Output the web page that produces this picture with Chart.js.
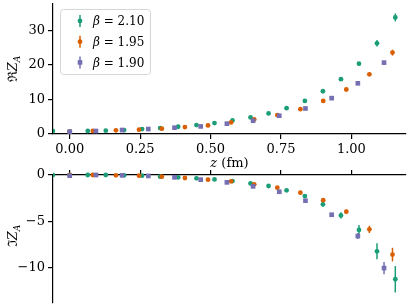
<!DOCTYPE html>
<html>
<head>
<meta charset="utf-8">
<script src="https://cdn.jsdelivr.net/npm/chart.js@4"></script>
<style>
  html, body { margin: 0; padding: 0; background: #fff; }
  #wrap { position: relative; width: 411px; height: 308px; }
  #reChart { position: absolute; left: 0; top: 0; }
  #imChart { position: absolute; left: 0; top: 160px; }
</style>
</head>
<body>
<div id="wrap">
  <canvas id="reChart" width="411" height="170" style="width:411px;height:170px"></canvas>
  <canvas id="imChart" width="411" height="148" style="width:411px;height:148px"></canvas>
</div>
<script>
// beta values (legend)
const betaLabels = ['2.10', '1.95', '1.90'];

// beta = 2.10
const zB210 = [-0.060, 0.000, 0.064, 0.128, 0.193, 0.257, 0.321, 0.385, 0.450, 0.514,
               0.578, 0.642, 0.706, 0.770, 0.835, 0.899, 0.963, 1.027, 1.091, 1.156];
const reB210 = [0.87, 0.70, 0.87, 0.96, 1.15, 1.44, 1.73, 2.10, 2.60, 3.17,
                3.94, 4.80, 5.96, 7.50, 9.60, 12.4, 15.9, 20.4, 26.3, 33.8];
const reErrB210 = [0.05, 0.05, 0.05, 0.05, 0.05, 0.05, 0.05, 0.06, 0.07, 0.08,
                   0.10, 0.12, 0.15, 0.20, 0.25, 0.30, 0.35, 0.50, 0.95, 1.15];
const imB210 = [0.00, 0.00, 0.00, 0.00, -0.04, -0.07, -0.18, -0.25, -0.36, -0.47,
                -0.65, -0.90, -1.18, -1.65, -2.26, -3.15, -4.34, -5.90, -8.20, -11.2];
const imErrB210 = [0.03, 0.03, 0.03, 0.03, 0.03, 0.03, 0.04, 0.05, 0.06, 0.07,
                   0.08, 0.10, 0.12, 0.15, 0.20, 0.25, 0.34, 0.54, 0.86, 1.42];

// beta = 1.95
const zB195 = [0.000, 0.082, 0.164, 0.246, 0.327, 0.409, 0.491, 0.573, 0.655, 0.737,
               0.819, 0.900, 0.982, 1.064, 1.146];
const reB195 = [0.70, 0.87, 1.06, 1.25, 1.54, 2.00, 2.50, 3.37, 4.23, 5.50,
                7.20, 9.60, 12.9, 17.3, 23.6];
const reErrB195 = [0.05, 0.05, 0.05, 0.05, 0.05, 0.06, 0.07, 0.08, 0.10, 0.12,
                   0.15, 0.20, 0.25, 0.40, 0.85];
const imB195 = [0.00, 0.00, -0.04, -0.07, -0.18, -0.32, -0.50, -0.68, -1.00, -1.36,
                -1.90, -2.70, -3.94, -5.84, -8.55];
const imErrB195 = [0.03, 0.03, 0.03, 0.03, 0.04, 0.05, 0.06, 0.07, 0.08, 0.10,
                   0.12, 0.18, 0.22, 0.39, 0.73];

// beta = 1.90
const zB190 = [0.000, 0.093, 0.186, 0.279, 0.372, 0.465, 0.558, 0.651, 0.744, 0.837,
               0.930, 1.023, 1.116];
const reB190 = [0.67, 0.87, 1.15, 1.44, 1.83, 2.20, 3.00, 3.85, 5.30, 7.40,
                10.4, 14.7, 20.7];
const reErrB190 = [0.05, 0.05, 0.05, 0.05, 0.05, 0.06, 0.07, 0.08, 0.10, 0.12,
                   0.15, 0.25, 0.30];
const imB190 = [-0.07, 0.00, -0.04, -0.10, -0.25, -0.50, -0.79, -1.22, -1.80, -2.76,
                -4.27, -6.56, -10.0];
const imErrB190 = [0.03, 0.03, 0.03, 0.04, 0.05, 0.06, 0.07, 0.08, 0.10, 0.14,
                   0.18, 0.32, 0.66];

// tick labels
const zTicks = [0, 0.25, 0.5, 0.75, 1.0];
const reTicks = [0, 10, 20, 30];
const imTicks = [0, -5, -10];

const colors = ['#1b9e77', '#d95f02', '#7570b3'];
const serif = "'DejaVu Serif', serif";

Chart.defaults.font.family = serif;
Chart.defaults.color = '#000';

function toPoints(zs, vals, errs) {
    return zs.map((z, i) => ({ x: z, y: vals[i], err: errs[i] }));
}

function makeDatasets(part) {
    const sets = part === 're'
        ? [[zB210, reB210, reErrB210], [zB195, reB195, reErrB195], [zB190, reB190, reErrB190]]
        : [[zB210, imB210, imErrB210], [zB195, imB195, imErrB195], [zB190, imB190, imErrB190]];
    return sets.map((s, i) => ({
        label: betaLabels[i],
        data: toPoints(s[0], s[1], s[2]),
        backgroundColor: colors[i],
        borderColor: colors[i],
        borderWidth: 0,
        pointStyle: i === 2 ? 'rect' : 'circle',
        pointRadius: i === 2 ? 3.3 : 2.4,
        showLine: false,
        order: 3 - i,
        clip: { left: 0, top: 6, right: 6, bottom: 6 }
    }));
}

// vertical error bars, drawn under the markers
const errorBars = {
    id: 'errorBars',
    beforeDatasetsDraw(chart) {
        const { ctx, chartArea, scales: { x, y } } = chart;
        ctx.save();
        ctx.beginPath();
        ctx.rect(chartArea.left, chartArea.top - 6, chartArea.width, chartArea.height + 12);
        ctx.clip();
        ctx.lineWidth = 1.5;
        chart.data.datasets.forEach(ds => {
            ctx.strokeStyle = ds.borderColor;
            ds.data.forEach(p => {
                const px = x.getPixelForValue(p.x);
                ctx.beginPath();
                ctx.moveTo(px, y.getPixelForValue(p.y - p.err));
                ctx.lineTo(px, y.getPixelForValue(p.y + p.err));
                ctx.stroke();
            });
        });
        ctx.restore();
    }
};

// draws a label made of pieces with their own font and baseline shift
function drawPieces(ctx, pieces, x, y) {
    let w = 0;
    pieces.forEach(p => { ctx.font = p.font; w += ctx.measureText(p.t).width; });
    let cx = x - w / 2;
    ctx.textAlign = 'left';
    ctx.textBaseline = 'alphabetic';
    pieces.forEach(p => {
        ctx.font = p.font;
        ctx.fillText(p.t, cx, y + (p.dy || 0));
        cx += ctx.measureText(p.t).width;
    });
}

function yTitle(symbol) {
    return {
        id: 'yTitle',
        afterDraw(chart) {
            const { ctx, chartArea } = chart;
            ctx.save();
            ctx.fillStyle = '#000';
            ctx.translate(17, (chartArea.top + chartArea.bottom) / 2 + (symbol === 'ℑ' ? -3 : 0));
            ctx.rotate(-Math.PI / 2);
            drawPieces(ctx, [
                { t: symbol, font: '13px ' + serif },
                { t: 'Z', font: 'italic 13px ' + serif },
                { t: 'A', font: 'italic 9px ' + serif, dy: 3 }
            ], 0, 0);
            ctx.restore();
        }
    };
}

const xTitle = {
    id: 'xTitle',
    afterDraw(chart) {
        const { ctx, chartArea } = chart;
        ctx.save();
        ctx.fillStyle = '#000';
        drawPieces(ctx, [
            { t: 'z', font: 'italic 13px ' + serif },
            { t: ' (fm)', font: '13px ' + serif }
        ], (chartArea.left + chartArea.right) / 2, 167);
        ctx.restore();
    }
};

const legendBox = {
    id: 'legendBox',
    afterDraw(chart) {
        const ctx = chart.ctx;
        ctx.save();
        ctx.beginPath();
        ctx.roundRect(60.5, 9.5, 90, 65, 3);
        ctx.fillStyle = 'rgba(255,255,255,0.8)';
        ctx.fill();
        ctx.strokeStyle = '#d6d6d6';
        ctx.lineWidth = 1;
        ctx.stroke();
        chart.data.datasets.forEach((ds, i) => {
            const cy = 21 + i * 20.7;
            ctx.strokeStyle = ds.borderColor;
            ctx.lineWidth = 1.5;
            ctx.beginPath();
            ctx.moveTo(80, cy - 6);
            ctx.lineTo(80, cy + 6);
            ctx.stroke();
            ctx.fillStyle = ds.backgroundColor;
            Chart.helpers.drawPoint(ctx, { pointStyle: ds.pointStyle, radius: ds.pointRadius, borderWidth: 0 }, 80, cy);
            ctx.fillStyle = '#000';
            ctx.textAlign = 'left';
            ctx.textBaseline = 'middle';
            ctx.font = 'italic 12px ' + serif;
            ctx.fillText('β', 93, cy + 1);
            const bw = ctx.measureText('β').width;
            ctx.font = '12px ' + serif;
            ctx.fillText(' = ' + ds.label, 93 + bw, cy + 1);
        });
        ctx.restore();
    }
};

function axisStyle() {
    return {
        border: { color: '#000', width: 1.2 },
        grid: { drawOnChartArea: false, color: '#000', lineWidth: 1.2, tickLength: 5 }
    };
}

// no extra room for overhanging tick labels, keep the plot box fixed
function noPad(s) {
    s.paddingTop = 0;
    s.paddingBottom = 0;
    s.paddingLeft = 0;
    s.paddingRight = 0;
}

const minusFmt = v => (v < 0 ? '\u2212' + Math.abs(v) : String(v));

new Chart(document.getElementById('reChart'), {
    type: 'scatter',
    data: { datasets: makeDatasets('re') },
    options: {
        responsive: false,
        animation: false,
        layout: { padding: { top: 3, right: 5, left: 0, bottom: 0 } },
        plugins: { legend: { display: false }, tooltip: { enabled: false } },
        scales: {
            x: {
                type: 'linear', position: 'bottom', min: -0.0594, max: 1.194,
                ...axisStyle(),
                ticks: { font: { size: 13 }, padding: 3, maxRotation: 0, callback: v => v.toFixed(2) },
                afterBuildTicks: s => { s.ticks = zTicks.map(v => ({ value: v })); },
                afterFit: s => { s.height = 36; noPad(s); }
            },
            y: {
                min: 0, max: 37.7,
                ...axisStyle(),
                ticks: { font: { size: 13 }, padding: 3 },
                afterBuildTicks: s => { s.ticks = reTicks.map(v => ({ value: v })); },
                afterFit: s => { s.width = 53; noPad(s); }
            }
        }
    },
    plugins: [errorBars, yTitle('ℜ'), xTitle, legendBox]
});

new Chart(document.getElementById('imChart'), {
    type: 'scatter',
    data: { datasets: makeDatasets('im') },
    options: {
        responsive: false,
        animation: false,
        layout: { padding: { top: 0, right: 5, left: 0, bottom: 5 } },
        plugins: { legend: { display: false }, tooltip: { enabled: false } },
        scales: {
            x: {
                type: 'linear', position: 'top', min: -0.0594, max: 1.194,
                ...axisStyle(),
                ticks: { display: false },
                afterBuildTicks: s => { s.ticks = zTicks.map(v => ({ value: v })); },
                afterFit: s => { s.height = 15; noPad(s); }
            },
            y: {
                min: -13.75, max: 0,
                ...axisStyle(),
                ticks: { font: { size: 13 }, padding: 3, callback: minusFmt },
                afterBuildTicks: s => { s.ticks = imTicks.map(v => ({ value: v })); },
                afterFit: s => { s.width = 53; noPad(s); }
            }
        }
    },
    plugins: [errorBars, yTitle('ℑ')]
});
</script>
</body>
</html>
